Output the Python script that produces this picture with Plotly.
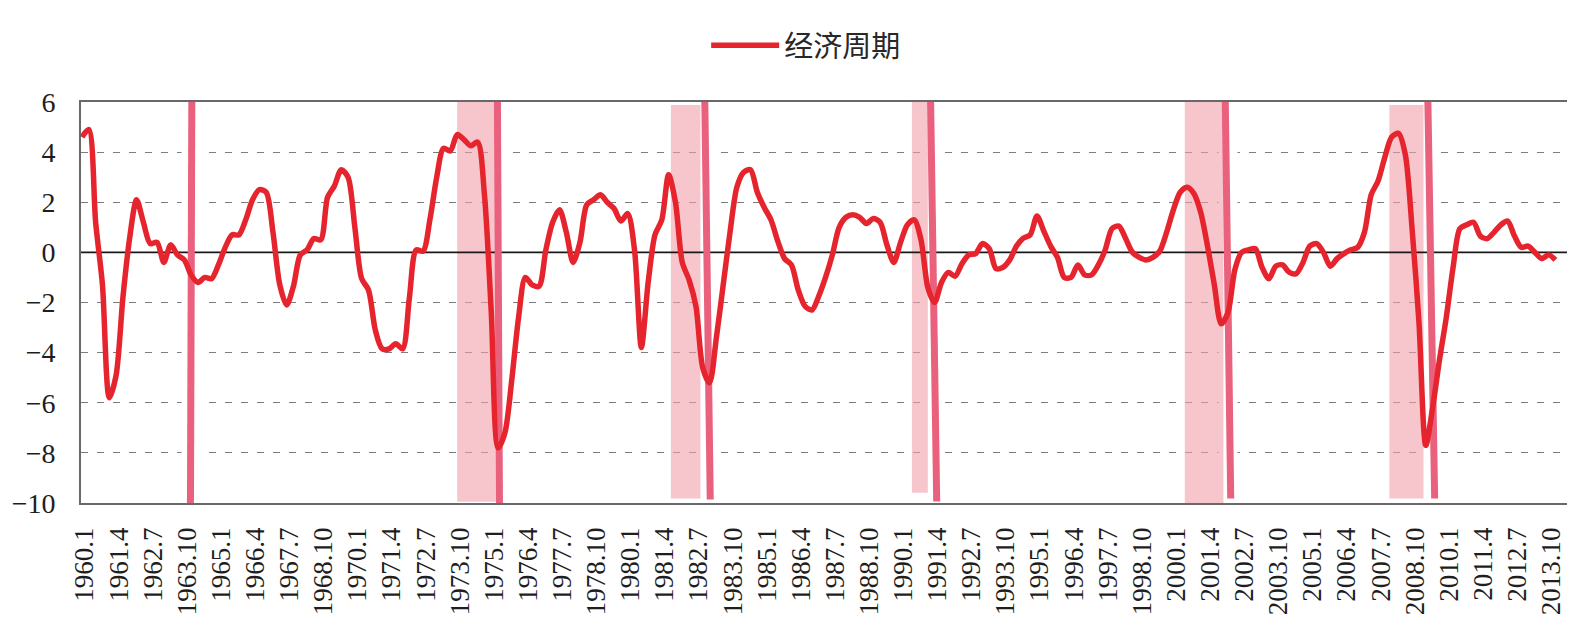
import plotly.graph_objects as go

# ---------------- data ----------------
START_YEAR = 1960
CYCLE = [
    4.6, 4.9, 1.2, -1.3, -5.8, -4.9, -1.8, 0.6, 2.1, 1.2,
    0.35, 0.4, -0.4, 0.3, -0.1, -0.3, -0.9, -1.2, -1.0, -1.05,
    -0.5, 0.2, 0.7, 0.7, 1.3, 2.1, 2.5, 2.4, 0.8, -1.3,
    -2.1, -1.35, -0.1, 0.1, 0.55, 0.5, 2.2, 2.65, 3.3, 3.0,
    1.0, -1.05, -1.5, -3.1, -3.85, -3.85, -3.65, -3.85, -1.8, 0.1,
    0.05, 1.3, 3.0, 4.15, 4.05, 4.7, 4.5, 4.25, 4.4, 2.3,
    -2.4, -7.8, -7.2, -5.1, -2.6, -1.0, -1.3, -1.35, 0.1, 1.2,
    1.7, 0.8, -0.4, 0.4, 1.9, 2.1, 2.3, 2.0, 1.75, 1.25,
    1.55, 0.1, -3.8, -1.2, 0.7, 1.3, 3.1, 2.0, -0.4, -1.1,
    -2.15, -4.6, -5.2, -3.4, -1.3, 0.8, 2.6, 3.2, 3.3, 2.4,
    1.8, 1.3, 0.45, -0.25, -0.5, -1.5, -2.15, -2.3, -1.75, -1.0,
    -0.1, 1.0, 1.4, 1.5, 1.4, 1.15, 1.35, 1.2, 0.3, -0.4,
    0.4, 1.1, 1.3, 0.5, -1.4, -2.0, -1.2, -0.8, -0.95, -0.45,
    -0.1, -0.05, 0.35, 0.15, -0.65, -0.6, -0.3, 0.25, 0.57, 0.7,
    1.45, 0.85, 0.25, -0.2, -1.0, -1.0, -0.5, -0.9, -0.9, -0.5,
    0.1, 0.95, 1.05, 0.55, 0.0, -0.2, -0.3, -0.2, 0.05, 0.8,
    1.7, 2.4, 2.6, 2.35, 1.6, 0.25, -1.3, -2.85, -2.4, -0.7,
    0.0, 0.1, 0.15, -0.6, -1.05, -0.55, -0.5, -0.8, -0.85, -0.4,
    0.25, 0.35, 0.0, -0.55, -0.25, -0.05, 0.1, 0.2, 0.8, 2.3,
    2.85, 3.8, 4.6, 4.75, 3.9, 0.9, -2.8, -7.7, -6.2, -4.3,
    -2.6, -0.6, 0.95, 1.1, 1.2, 0.65, 0.55, 0.8, 1.1, 1.25,
    0.65, 0.2, 0.25, 0.0, -0.25, -0.1, -0.3,
]
TICK_LABELS = [
    "1960.1", "1961.4", "1962.7", "1963.10", "1965.1", "1966.4", "1967.7", "1968.10",
    "1970.1", "1971.4", "1972.7", "1973.10", "1975.1", "1976.4", "1977.7", "1978.10",
    "1980.1", "1981.4", "1982.7", "1983.10", "1985.1", "1986.4", "1987.7", "1988.10",
    "1990.1", "1991.4", "1992.7", "1993.10", "1995.1", "1996.4", "1997.7", "1998.10",
    "2000.1", "2001.4", "2002.7", "2003.10", "2005.1", "2006.4", "2007.7", "2008.10",
    "2010.1", "2011.4", "2012.7", "2013.10",
]
# shaded recession periods (year.month)
REC_START = ["1973.10", "1981.8", "1990.6", "2000.6", "2007.12"]
REC_END = ["1975.3", "1982.9", "1991.1", "2001.11", "2009.3"]
REC_TOP = [6.0, 5.88, 6.0, 6.0, 5.88]
REC_BOTTOM = [-9.95, -9.82, -9.59, -10.0, -9.82]
# hand-drawn turning-point markers (quarter position at top / bottom)
TURN_TOP = [16.1, 60.9, 91.3, 124.4, 167.6, 197.3]
TURN_BOTTOM = [15.9, 61.2, 92.1, 125.3, 168.4, 198.3]
TURN_YBOTTOM = [-10.0, -10.0, -9.86, -9.94, -9.82, -9.82]

LEGEND_NAME = "经济周期"


def date_pos(s):
    y, m = s.split(".")
    return (int(y) - START_YEAR) * 4 + (int(m) - 1) / 3.0


x_idx = list(range(len(CYCLE)))
X_RANGE = [-0.146, 217.7]
LABEL_SHIFT = 0.4
tickvals = [date_pos(t) + LABEL_SHIFT for t in TICK_LABELS]

RED = "rgb(229,36,46)"
MARK = "rgb(233,97,124)"
SERIF = "Liberation Serif, Times New Roman, serif"

shapes = []
# white gaps in the dashed gridlines around each marker
for t, b in zip(TURN_TOP, TURN_BOTTOM):
    c = (t + b) / 2
    shapes.append(dict(type="rect", xref="x", yref="y", x0=c - 1.4, x1=c + 1.4,
                       y0=-10, y1=6, fillcolor="white", line=dict(width=0),
                       layer="between"))
# recession shading
for s, e, top, bot in zip(REC_START, REC_END, REC_TOP, REC_BOTTOM):
    shapes.append(dict(type="rect", xref="x", yref="y", x0=date_pos(s), x1=date_pos(e),
                       y0=bot, y1=top, fillcolor="rgb(242,160,170)", opacity=0.6,
                       line=dict(width=0), layer="between"))
# zero line
shapes.append(dict(type="line", xref="x", yref="y", x0=X_RANGE[0], x1=X_RANGE[1], y0=0, y1=0,
                   line=dict(color="rgb(25,25,25)", width=1.6), layer="between"))
# turning-point markers
for t, b, yb in zip(TURN_TOP, TURN_BOTTOM, TURN_YBOTTOM):
    shapes.append(dict(type="line", xref="x", yref="y", x0=t, x1=b, y0=6.1, y1=yb,
                       line=dict(color=MARK, width=7), layer="between"))

fig = go.Figure()
fig.add_trace(go.Scatter(
    x=x_idx, y=CYCLE, mode="lines", name=LEGEND_NAME,
    line=dict(color=RED, width=5.5, shape="spline", smoothing=0.8),
    showlegend=True,
))

fig.update_layout(
    width=1586, height=640,
    margin=dict(l=77, r=19, t=102, b=137),
    paper_bgcolor="white", plot_bgcolor="white",
    shapes=shapes,
    showlegend=True,
    legend=dict(orientation="h", x=0.488, xanchor="center", y=1.141, yanchor="middle",
                font=dict(family="Noto Sans CJK SC", size=29, color="rgb(40,40,40)"),
                itemwidth=68, bgcolor="rgba(0,0,0,0)"),
    xaxis=dict(
        range=X_RANGE, showgrid=False, zeroline=False,
        showline=True, mirror=True, linecolor="rgb(105,105,105)", linewidth=1.6,
        tickmode="array", tickvals=tickvals, ticktext=TICK_LABELS,
        tickangle=-90, ticks="", ticklabelstandoff=12,
        tickfont=dict(family=SERIF, size=27, color="rgb(30,30,30)"),
    ),
    yaxis=dict(
        range=[-10, 6], tickmode="array", tickvals=list(range(-10, 7, 2)),
        showgrid=True, gridcolor="rgb(125,125,125)", gridwidth=1.2, griddash="7px,9px",
        zeroline=False, showline=True, linecolor="rgb(105,105,105)", linewidth=1.6,
        ticks="", ticklabelstandoff=18,
        tickfont=dict(family=SERIF, size=28, color="rgb(30,30,30)"),
    ),
)

fig.write_html("out.html")
